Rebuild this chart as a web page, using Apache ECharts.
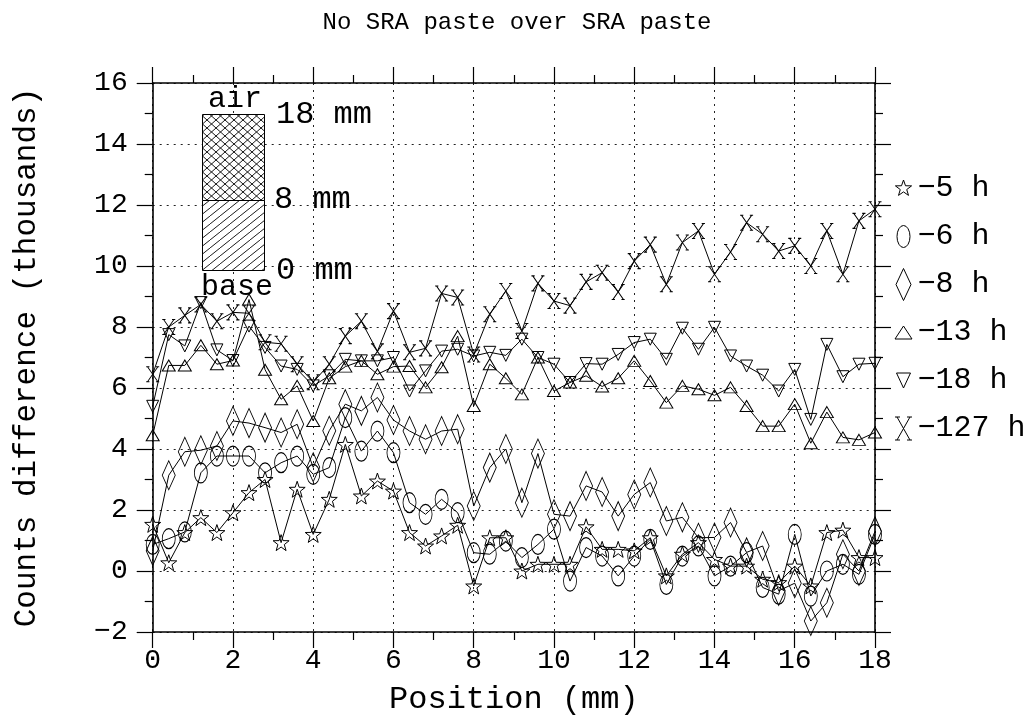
<!DOCTYPE html>
<html>
<head>
<meta charset="utf-8">
<script src="https://cdn.jsdelivr.net/npm/echarts@6/dist/echarts.min.js"></script>
<style>
  html, body { margin: 0; padding: 0; background: #fff; }
  #chart { width: 1034px; height: 723px; }
</style>
</head>
<body>
<div id="chart"></div>
<script>
// Sample positions along the specimen (mm)
const positions = [0, 0.4, 0.8, 1.2, 1.6, 2.0, 2.4, 2.8, 3.2, 3.6, 4.0, 4.4, 4.8, 5.2, 5.6, 6.0,
  6.4, 6.8, 7.2, 7.6, 8.0, 8.4, 8.8, 9.2, 9.6, 10.0, 10.4, 10.8, 11.2, 11.6, 12.0, 12.4,
  12.8, 13.2, 13.6, 14.0, 14.4, 14.8, 15.2, 15.6, 16.0, 16.4, 16.8, 17.2, 17.6, 18.0];

// Counts difference (thousands) at each position, one array per age
const counts5h = [1.53, 0.27, 1.26, 1.75, 1.26, 1.91, 2.57, 3.0, 0.93, 2.68, 1.2, 2.35, 4.15, 2.46, 2.95,
  2.62, 1.26, 0.82, 1.15, 1.5, -0.49, 1.09, 1.09, 0.0, 0.22, 0.22, 0.22, 1.45, 0.71, 0.71,
  0.66, 1.09, -0.16, 0.55, 0.93, 0.38, 0.16, 0.16, -0.27, -0.38, 0.16, -0.49, 1.26, 1.34, 0.44, 0.44];
const counts6h = [0.87, 1.06, 1.28, 3.22, 3.77, 3.77, 3.77, 3.22, 3.55, 3.77, 3.17, 3.39, 5.03, 3.93, 4.59,
  3.88, 2.24, 1.86, 2.35, 1.91, 0.6, 0.55, 0.98, 0.44, 0.87, 1.37, -0.33, 0.77, 0.49, -0.16,
  0.49, 1.04, -0.44, 0.49, 0.82, -0.16, 0.16, 0.6, -0.54, -0.76, 1.2, -0.82, 0.0, 0.22, -0.11, 1.2];
const counts8h = [0.66, 3.14, 3.91, 3.96, 4.1, 4.92, 4.85, 4.7, 4.54, 4.81, 3.4, 4.6, 5.47, 5.25, 5.69,
  4.95, 4.59, 4.32, 4.59, 4.65, 2.13, 3.39, 4.0, 2.24, 3.85, 1.86, 1.8, 2.79, 2.59, 1.8,
  2.51, 2.9, 1.64, 1.76, 1.09, 1.1, 1.59, 0.61, 0.82, -0.65, -0.4, -1.64, -1.04, 0.55, 0.0, 1.3];
const counts13h = [4.45, 6.74, 6.74, 7.4, 6.78, 6.9, 8.9, 6.6, 5.63, 6.07, 4.92, 6.32, 6.7, 6.89, 6.45,
  6.7, 6.72, 6.02, 6.68, 7.7, 5.41, 6.78, 6.32, 5.79, 7.0, 5.9, 6.18, 6.4, 6.05, 6.32,
  6.89, 6.23, 5.52, 6.07, 5.96, 5.76, 6.02, 5.41, 4.75, 4.75, 5.47, 4.19, 5.21, 4.38, 4.3, 4.54];
const counts18h = [5.4, 7.75, 7.38, 8.8, 7.25, 6.9, 8.03, 7.33, 6.72, 6.61, 6.07, 6.4, 6.94, 6.89, 6.89,
  7.0, 5.9, 6.56, 7.21, 7.27, 7.05, 7.17, 7.07, 7.6, 7.0, 6.78, 6.18, 6.8, 6.78, 7.1,
  7.49, 7.6, 6.94, 7.96, 7.27, 7.99, 7.05, 6.72, 6.42, 5.9, 6.61, 4.97, 7.43, 6.37, 6.78, 6.81];
const counts127h = [6.45, 8.0, 8.38, 8.74, 8.19, 8.48, 8.45, 7.5, 7.45, 6.78, 6.19, 6.78, 7.7, 8.19, 7.2,
  8.52, 7.17, 7.3, 9.1, 8.97, 7.1, 8.42, 9.18, 7.87, 9.43, 8.85, 8.7, 9.48, 9.78, 9.15,
  10.16, 10.7, 9.4, 10.77, 11.15, 9.73, 10.46, 11.42, 11.04, 10.49, 10.66, 10.0, 11.15, 9.73, 11.48, 11.86];

const seriesNames = ['5 h', '6 h', '8 h', '13 h', '18 h', '127 h'];
const seriesValues = [counts5h, counts6h, counts8h, counts13h, counts18h, counts127h];

// Inset labels describing the specimen layers
const insetTop = 'air', insetBottom = 'base';
const insetLevels = ['18 mm', '8 mm', '0 mm'];

const MONO = '"Liberation Mono", "DejaVu Sans Mono", monospace';

// Marker outlines used on the plot
const markerShapes = [
  { symbol: 'path://M0,-10L2.35,-3.24L9.51,-3.09L3.8,1.24L5.88,8.09L0,4L-5.88,8.09L-3.8,1.24L-9.51,-3.09L-2.35,-3.24Z', size: [16, 16] },
  { symbol: 'path://M0,-10A10,10,0,1,1,0,10A10,10,0,1,1,0,-10Z', size: [13, 20] },
  { symbol: 'path://M0,-10L10,0L0,10L-10,0Z', size: [13, 29] },
  { symbol: 'path://M0,-10L10,10L-10,10Z', size: [13, 11] },
  { symbol: 'path://M-10,-10L10,-10L0,10Z', size: [12, 12] },
  { symbol: 'path://M-8,-10L8,10M8,-10L-8,10M-10,-10L-5,-10M5,-10L10,-10M-10,10L-5,10M5,10L10,10', size: [13, 15] }
];

// Legend icons laid out in an 18 x 34 box (leading moves fix the box)
const BOX = 'M0,0M18,34';
const legendIcons = [
  'path://' + BOX + 'M9,8.5L11,14.25L17.08,14.37L12.23,18.05L14,23.88L9,20.4L4,23.88L5.77,18.05L0.92,14.37L7,14.25Z',
  'path://' + BOX + 'M9,6A6.5,11,0,1,1,9,28A6.5,11,0,1,1,9,6Z',
  'path://' + BOX + 'M9,1L16.5,17L9,33L1.5,17Z',
  'path://' + BOX + 'M9,10.5L17.5,23.5L0.5,23.5Z',
  'path://' + BOX + 'M2,9.5L16,9.5L9,24.5Z',
  'path://' + BOX + 'M2.5,5.5L15.5,28.5M15.5,5.5L2.5,28.5M0.5,5.5L5.5,5.5M12.5,5.5L17.5,5.5M0.5,28.5L5.5,28.5M12.5,28.5L17.5,28.5'
];

// Hatch tiles for the inset
function hatchTile(w, h, cross) {
  const c = document.createElement('canvas');
  c.width = w; c.height = h;
  const g = c.getContext('2d');
  g.fillStyle = '#fff'; g.fillRect(0, 0, w, h);
  g.strokeStyle = '#000'; g.lineWidth = 0.9;
  g.beginPath();
  g.moveTo(-1, h + h / w); g.lineTo(w + 1, -h / w);
  if (cross) { g.moveTo(-1, -h / w); g.lineTo(w + 1, h + h / w); }
  g.stroke();
  return c;
}
const crossFill = { image: hatchTile(9, 8, true), repeat: 'repeat' };
const diagFill = { image: hatchTile(10, 8, false), repeat: 'repeat' };

const tickFmt = v => (v < 0 ? '\u2212' + (-v) : String(v));

const axisBase = {
  type: 'value',
  axisLine: { show: true, onZero: false, lineStyle: { color: '#000', width: 1.6 } },
  axisTick: { show: true, inside: false, length: 16, lineStyle: { color: '#000', width: 1.2 } },
  minorTick: { show: true, splitNumber: 2, length: 8, lineStyle: { color: '#000', width: 1.2 } }
};

const chart = echarts.init(document.getElementById('chart'), null, { renderer: 'canvas' });

const option = {
  animation: false,
  backgroundColor: '#fff',
  title: {
    text: 'No SRA paste over SRA paste',
    left: 'center', top: 6,
    textStyle: { fontFamily: MONO, fontSize: 24, fontWeight: 'normal', color: '#000' }
  },
  grid: { left: 152.7, right: 159, top: 83, bottom: 91 },
  xAxis: [
    Object.assign({}, axisBase, {
      position: 'bottom', min: 0, max: 18, interval: 2,
      name: 'Position (mm)', nameLocation: 'middle', nameGap: 52,
      nameTextStyle: { fontFamily: MONO, fontSize: 32, color: '#000' },
      axisLabel: { show: true, margin: 15, fontFamily: MONO, fontSize: 28, color: '#000' },
      splitLine: { show: true, lineStyle: { color: '#222', width: 1, type: [2, 5] } }
    }),
    Object.assign({}, axisBase, {
      position: 'top', min: 0, max: 18, interval: 2,
      axisLabel: { show: false }, splitLine: { show: false }
    })
  ],
  yAxis: [
    Object.assign({}, axisBase, {
      position: 'left', min: -2, max: 16, interval: 2,
      name: 'Counts difference (thousands)', nameLocation: 'middle', nameGap: 110,
      nameTextStyle: { fontFamily: MONO, fontSize: 31, color: '#000' },
      axisLabel: { show: true, margin: 25, fontFamily: MONO, fontSize: 28, color: '#000', formatter: tickFmt },
      splitLine: { show: true, lineStyle: { color: '#222', width: 1, type: [2, 5] } }
    }),
    Object.assign({}, axisBase, {
      position: 'right', min: -2, max: 16, interval: 2,
      axisLabel: { show: false }, splitLine: { show: false }
    })
  ],
  legend: {
    orient: 'vertical', left: 889, top: 166,
    itemWidth: 18, itemHeight: 34, itemGap: 13,
    symbolKeepAspect: false,
    itemStyle: { color: 'rgba(0,0,0,0)', borderColor: '#000', borderWidth: 1 },
    lineStyle: { opacity: 0 },
    formatter: name => '\u2212' + name,
    textStyle: { fontFamily: MONO, fontSize: 30, color: '#000', padding: [0, 0, 0, 0] },
    data: seriesNames.map((n, i) => ({ name: n, icon: legendIcons[i] }))
  },
  series: seriesNames.map((n, i) => ({
    name: n,
    type: 'line',
    data: positions.map((x, k) => [x, seriesValues[i][k]]),
    symbol: markerShapes[i].symbol,
    symbolSize: markerShapes[i].size,
    showAllSymbol: true,
    clip: false,
    lineStyle: { color: '#000', width: 1 },
    itemStyle: { color: 'rgba(0,0,0,0)', borderColor: '#000', borderWidth: 1 },
    emphasis: { disabled: true }
  })),
  graphic: [
    { type: 'rect', shape: { x: 202.5, y: 114.5, width: 62, height: 86 },
      style: { fill: crossFill, stroke: '#000', lineWidth: 1 }, z: 10 },
    { type: 'rect', shape: { x: 202.5, y: 200.5, width: 62, height: 70 },
      style: { fill: diagFill, stroke: '#000', lineWidth: 1 }, z: 10 },
    { type: 'text', x: 235, y: 99, z: 10,
      style: { text: insetTop, font: '30px ' + MONO, fill: '#000', textAlign: 'center', textVerticalAlign: 'middle' } },
    { type: 'text', x: 237, y: 287, z: 10,
      style: { text: insetBottom, font: '30px ' + MONO, fill: '#000', textAlign: 'center', textVerticalAlign: 'middle' } },
    { type: 'text', x: 276, y: 115, z: 10,
      style: { text: insetLevels[0], font: '32px ' + MONO, fill: '#000', textAlign: 'left', textVerticalAlign: 'middle' } },
    { type: 'text', x: 274, y: 200, z: 10,
      style: { text: insetLevels[1], font: '32px ' + MONO, fill: '#000', textAlign: 'left', textVerticalAlign: 'middle' } },
    { type: 'text', x: 276, y: 271, z: 10,
      style: { text: insetLevels[2], font: '32px ' + MONO, fill: '#000', textAlign: 'left', textVerticalAlign: 'middle' } }
  ]
};

chart.setOption(option);
</script>
</body>
</html>
